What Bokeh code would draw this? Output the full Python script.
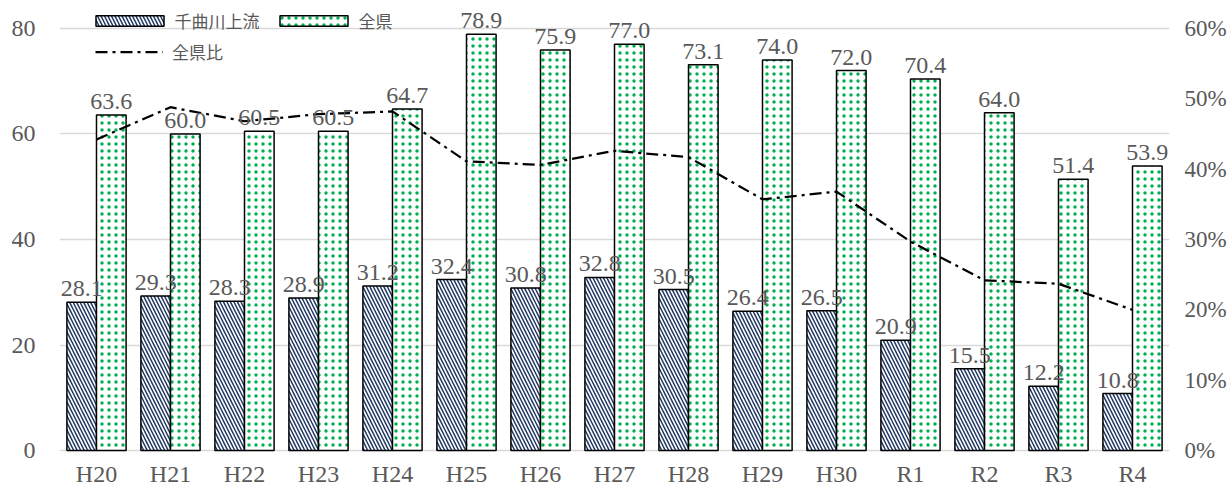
from bokeh.plotting import figure
from bokeh.models import (FactorRange, Range1d, LinearAxis, SingleIntervalTicker,
                          NumeralTickFormatter, Legend, LegendItem, ColumnDataSource,
                          LabelSet)
from bokeh.transform import dodge
from bokeh.core.properties import value
from bokeh.embed import file_html
from bokeh.resources import INLINE

# ---------------- data ----------------
categories = ["H20", "H21", "H22", "H23", "H24", "H25", "H26", "H27",
              "H28", "H29", "H30", "R1", "R2", "R3", "R4"]
upper_chikuma = [28.1, 29.3, 28.3, 28.9, 31.2, 32.4, 30.8, 32.8,
                 30.5, 26.4, 26.5, 20.9, 15.5, 12.2, 10.8]
whole_pref = [63.6, 60.0, 60.5, 60.5, 64.7, 78.9, 75.9, 77.0,
              73.1, 74.0, 72.0, 70.4, 64.0, 51.4, 53.9]
pref_ratio = [0.442, 0.488, 0.468, 0.478, 0.482, 0.411, 0.406, 0.426,
              0.417, 0.357, 0.368, 0.297, 0.242, 0.237, 0.200]
series_names = ["千曲川上流", "全県", "全県比"]

# ---------------- style ----------------
GRAY = "#595959"
SERIF = "'Liberation Serif', 'DejaVu Serif', serif"
JP = "'Noto Sans CJK JP', sans-serif"
PX_PER_UNIT = 5.3
Y_TOP = 452 / PX_PER_UNIT        # frame top above the 80 gridline
Y_BOTTOM = -10 / PX_PER_UNIT     # a little room under the zero line
R_TOP = 0.6 * Y_TOP / 80
R_BOTTOM = 0.6 * Y_BOTTOM / 80

src = ColumnDataSource(dict(
    cat=categories,
    up=upper_chikuma,
    pref=whole_pref,
    ratio=pref_ratio,
    up_lbl=[f"{v:.1f}" for v in upper_chikuma],
    pref_lbl=[f"{v:.1f}" for v in whole_pref],
))

p = figure(width=1229, height=489,
           x_range=FactorRange(factors=categories, range_padding=0),
           y_range=Range1d(Y_BOTTOM, Y_TOP),
           output_backend="svg", toolbar_location=None,
           min_border_left=59, min_border_right=58,
           min_border_top=0, min_border_bottom=27)
p.extra_y_ranges = {"ratio": Range1d(R_BOTTOM, R_TOP)}
p.outline_line_color = None
p.background_fill_color = "white"

r_blue = p.vbar(x=dodge("cat", -0.2, range=p.x_range), top="up", bottom=0, width=0.4,
                source=src, fill_color="white", line_color="black", line_width=1.5,
                hatch_pattern="\\", hatch_color="#203864", hatch_scale=7, hatch_weight=1.5)
r_green = p.vbar(x=dodge("cat", 0.2, range=p.x_range), top="pref", bottom=0, width=0.4,
                 source=src, fill_color="white", line_color="black", line_width=1.5,
                 hatch_pattern=".", hatch_color="#00B050", hatch_scale=7, hatch_weight=1)

lbl_style = dict(text_align="center", text_baseline="alphabetic", y_offset=6,
                 text_font=SERIF, text_font_size="24px", text_color=GRAY, source=src)
p.add_layout(LabelSet(x=dodge("cat", -0.2, range=p.x_range), y="up", text="up_lbl", **lbl_style))
p.add_layout(LabelSet(x=dodge("cat", 0.2, range=p.x_range), y="pref", text="pref_lbl", **lbl_style))

r_line = p.line(x="cat", y="ratio", y_range_name="ratio", source=src,
                line_color="black", line_width=2.25, line_dash="12 5 3 5")

# ---------------- axes ----------------
def style_axis(ax, standoff, size="24px"):
    ax.major_label_standoff = standoff
    ax.major_tick_out = 0
    ax.major_tick_in = 0
    ax.minor_tick_out = 0
    ax.minor_tick_in = 0
    ax.axis_line_color = None
    ax.major_label_text_font = SERIF
    ax.major_label_text_font_size = size
    ax.major_label_text_color = GRAY

left_ticker = SingleIntervalTicker(interval=20, num_minor_ticks=0)
ya = p.yaxis[0]
ya.ticker = left_ticker
style_axis(ya, 24)

right = LinearAxis(y_range_name="ratio",
                   ticker=SingleIntervalTicker(interval=0.1, num_minor_ticks=0),
                   formatter=NumeralTickFormatter(format="0%"))
style_axis(right, 15, "23px")
p.add_layout(right, "right")

xa = p.xaxis[0]
style_axis(xa, 0)

p.xgrid.visible = False
p.ygrid.ticker = left_ticker
p.ygrid.grid_line_color = "#D9D9D9"
p.ygrid.grid_line_width = 1.5

# ---------------- legends ----------------
leg_style = dict(padding=0, margin=0, label_text_font=JP, label_text_font_size="17px",
                 label_text_color=GRAY, background_fill_alpha=0, border_line_alpha=0)
leg1 = Legend(items=[LegendItem(label=value(series_names[0]), renderers=[r_blue]),
                     LegendItem(label=value(series_names[1]), renderers=[r_green])],
              orientation="horizontal", location=(27.5, 427), spacing=11,
              label_standoff=3, glyph_width=85, glyph_height=13, **leg_style)
leg2 = Legend(items=[LegendItem(label=value(series_names[2]), renderers=[r_line])],
              location=(36, 396), label_standoff=9, glyph_width=68, glyph_height=13,
              **leg_style)
p.add_layout(leg1)
p.add_layout(leg2)

open("out.html", "w").write(file_html(p, INLINE))
